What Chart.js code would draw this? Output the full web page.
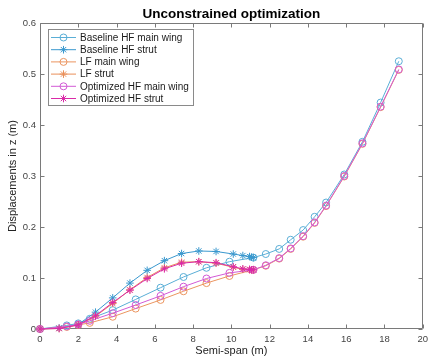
<!DOCTYPE html>
<html>
<head>
<meta charset="utf-8">
<script src="https://cdn.jsdelivr.net/npm/chart.js@4.4.1/dist/chart.umd.min.js"></script>
<style>
html,body{margin:0;padding:0;background:#fff;}
#wrap{width:433px;height:361px;}
</style>
</head>
<body>
<div id="wrap"><canvas id="c" width="433" height="361"></canvas></div>
<script>
// Main wing span stations (m)
const wingX = [0, 1.4, 2.0, 2.6, 3.8, 5.0, 6.3, 7.5, 8.7, 9.9, 11.15, 11.8, 12.5, 13.1, 13.75, 14.35, 14.95, 15.9, 16.85, 17.8, 18.75];
const baselineWing = [0, 0.007, 0.011, 0.020, 0.037, 0.058, 0.081, 0.102, 0.120, 0.132, 0.140, 0.147, 0.157, 0.175, 0.194, 0.220, 0.248, 0.303, 0.367, 0.444, 0.525];
const lfWing = [0, 0.004, 0.008, 0.012, 0.024, 0.040, 0.057, 0.074, 0.090, 0.104, 0.116, 0.124, 0.138, 0.157, 0.181, 0.208, 0.241, 0.299, 0.363, 0.435, 0.508];
const optimizedWing = [0, 0.005, 0.009, 0.016, 0.031, 0.047, 0.065, 0.083, 0.099, 0.110, 0.116, 0.125, 0.139, 0.158, 0.182, 0.209, 0.242, 0.300, 0.364, 0.436, 0.509];
// Strut span stations (m)
const strutX = [0, 1.0, 2.0, 2.9, 3.8, 4.7, 5.6, 6.5, 7.4, 8.3, 9.2, 10.1, 10.6, 10.95, 11.05, 11.15];
const baselineStrut = [0, 0.002, 0.009, 0.033, 0.061, 0.090, 0.115, 0.134, 0.148, 0.153, 0.152, 0.147, 0.144, 0.142, 0.141, 0.140];
const lfStrut = [0, 0.001, 0.008, 0.025, 0.050, 0.077, 0.101, 0.120, 0.131, 0.132, 0.129, 0.121, 0.117, 0.116, 0.116, 0.116];
const optimizedStrut = [0, 0.001, 0.008, 0.026, 0.052, 0.076, 0.099, 0.118, 0.129, 0.132, 0.130, 0.122, 0.118, 0.117, 0.116, 0.116];

const seriesLabels = ['Baseline HF main wing', 'Baseline HF strut', 'LF main wing', 'LF strut', 'Optimized HF main wing', 'Optimized HF strut'];
const xTicks = [0, 2, 4, 6, 8, 10, 12, 14, 16, 18, 20];
const yTicks = [0, 0.1, 0.2, 0.3, 0.4, 0.5, 0.6];

const colors = ['#5aaed6', '#3a98ce', '#eb9560', '#e98f5a', '#d25ad5', '#da2aa8'];
const styles = ['circle', 'star', 'circle', 'star', 'circle', 'star'];
const xs = [wingX, strutX, wingX, strutX, wingX, strutX];
const ys = [baselineWing, baselineStrut, lfWing, lfStrut, optimizedWing, optimizedStrut];

const FONT = "'Liberation Sans', Arial, Helvetica, sans-serif";

const datasets = seriesLabels.map((lab, i) => ({
  label: lab,
  data: xs[i].map((x, k) => ({x: x, y: ys[i][k]})),
  showLine: true,
  order: seriesLabels.length - i,
  borderColor: colors[i],
  backgroundColor: 'rgba(0,0,0,0)',
  pointBorderColor: colors[i],
  pointBackgroundColor: 'rgba(0,0,0,0)',
  pointStyle: styles[i],
  pointRadius: styles[i] === 'circle' ? 3.5 : 3.8,
  pointBorderWidth: 1,
  borderWidth: 1,
  clip: false
}));

const framePlugin = {
  id: 'frame',
  beforeDatasetsDraw(chart) {
    const {ctx, chartArea: a, scales: {x, y}} = chart;
    ctx.save();
    ctx.strokeStyle = '#7a7a7a';
    ctx.lineWidth = 1;
    const L = Math.round(a.left) + 0.5, R = Math.round(a.right) - 0.5;
    const T = Math.round(a.top) + 0.5, B = Math.round(a.bottom) - 0.5;
    ctx.beginPath();
    ctx.rect(L, T, R - L, B - T);
    xTicks.forEach(v => {
      const p = Math.round(x.getPixelForValue(v)) + 0.5;
      ctx.moveTo(p, B); ctx.lineTo(p, B - 4);
      ctx.moveTo(p, T); ctx.lineTo(p, T + 4);
    });
    yTicks.forEach(v => {
      const p = Math.round(y.getPixelForValue(v)) + 0.5;
      ctx.moveTo(L, p); ctx.lineTo(L + 4, p);
      ctx.moveTo(R, p); ctx.lineTo(R - 4, p);
    });
    ctx.stroke();
    ctx.restore();
  }
};

const legendPlugin = {
  id: 'boxLegend',
  afterDraw(chart) {
    const {ctx} = chart;
    const bx = 48.5, by = 29.5, bw = 145, bh = 76;
    ctx.save();
    ctx.fillStyle = '#fff';
    ctx.fillRect(bx, by, bw, bh);
    ctx.strokeStyle = '#8a8a8a';
    ctx.lineWidth = 1;
    ctx.strokeRect(bx, by, bw, bh);
    ctx.font = '10px ' + FONT;
    ctx.textBaseline = 'middle';
    chart.data.datasets.forEach((ds, i) => {
      const yy = 37.5 + i * 12.2;
      ctx.strokeStyle = ds.borderColor;
      ctx.lineWidth = 1;
      ctx.beginPath();
      ctx.moveTo(51, yy); ctx.lineTo(76, yy);
      ctx.stroke();
      ctx.fillStyle = 'rgba(255,255,255,0)';
      Chart.helpers.drawPoint(ctx, {pointStyle: ds.pointStyle, radius: ds.pointRadius, borderWidth: 1}, 63.5, yy);
      ctx.fillStyle = '#1a1a1a';
      ctx.fillText(ds.label, 80, yy + 0.5);
    });
    ctx.restore();
  }
};

new Chart(document.getElementById('c'), {
  type: 'scatter',
  data: {datasets},
  options: {
    responsive: false,
    animation: false,
    devicePixelRatio: 1,
    layout: {padding: {left: 0, right: 3, top: 0, bottom: 0}},
    plugins: {
      legend: {display: false},
      tooltip: {enabled: false},
      title: {
        display: true,
        fullSize: false,
        text: 'Unconstrained optimization',
        color: '#000',
        font: {family: FONT, size: 13.5, weight: 'bold', lineHeight: 1},
        padding: {top: 7.5, bottom: 2}
      }
    },
    scales: {
      x: {
        type: 'linear',
        min: 0, max: 20,
        afterFit(s) { s.height = 32; },
        afterBuildTicks(s) { s.ticks = xTicks.map(v => ({value: v})); },
        grid: {display: false, drawTicks: false},
        border: {display: false},
        ticks: {color: '#444', font: {family: FONT, size: 9.5}, padding: 5, maxRotation: 0},
        title: {display: true, text: 'Semi-span (m)', color: '#222', font: {family: FONT, size: 11}, padding: {top: 0, bottom: 3}}
      },
      y: {
        type: 'linear',
        min: 0, max: 0.6,
        afterFit(s) { s.width = 40; },
        afterBuildTicks(s) { s.ticks = yTicks.map(v => ({value: v})); },
        grid: {display: false, drawTicks: false},
        border: {display: false},
        ticks: {color: '#444', font: {family: FONT, size: 9.5}, padding: 4,
          callback: v => String(Math.round(v * 10) / 10)},
        title: {display: true, text: 'Displacements in z (m)', color: '#222', font: {family: FONT, size: 11}, padding: {top: 6, bottom: 0}}
      }
    }
  },
  plugins: [framePlugin, legendPlugin]
});
</script>
</body>
</html>
